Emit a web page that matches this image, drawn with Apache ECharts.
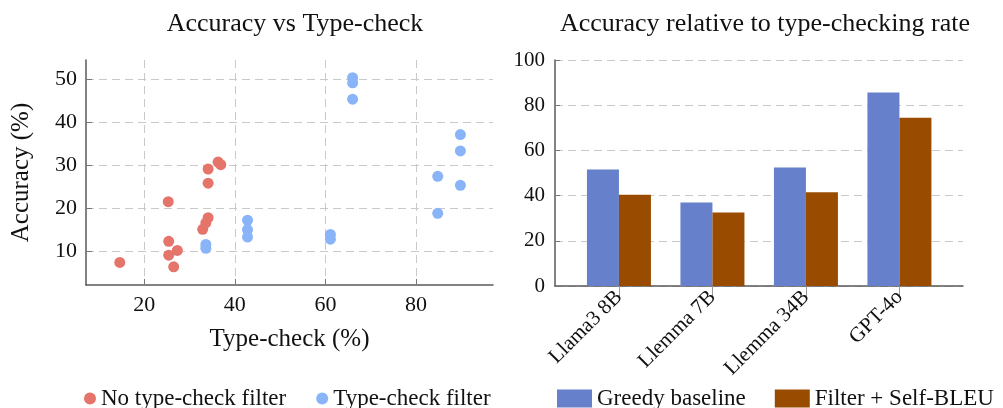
<!DOCTYPE html>
<html>
<head>
<meta charset="utf-8">
<script src="https://cdn.jsdelivr.net/npm/echarts@6/dist/echarts.min.js"></script>
<style>
html,body{margin:0;padding:0;background:#fff;}
#c{width:1003px;height:408px;}
</style>
</head>
<body>
<div id="c"></div>
<script>
// ---- Data ----
const noFilterX = [14.6, 25.3, 25.4, 27.3, 26.5, 34.1, 34.1, 36.3, 36.9, 34.1, 33.6, 32.9, 25.4];
const noFilterY = [7.5, 21.6, 12.4, 10.3, 6.5, 29.2, 25.9, 30.8, 30.2, 17.9, 16.7, 15.2, 9.2];
const filterX = [33.6, 33.6, 42.8, 42.8, 42.8, 61.1, 61.1, 66.0, 66.0, 66.0, 89.8, 89.8, 89.8, 84.8, 84.8];
const filterY = [11.7, 10.8, 17.3, 15.1, 13.4, 14.0, 12.9, 50.4, 49.2, 45.4, 37.2, 33.4, 25.4, 27.5, 18.9];

const scatterXTicks = [20, 40, 60, 80];
const scatterYTicks = [10, 20, 30, 40, 50];

const models = ['Llama3 8B', 'Llemma 7B', 'Llemma 34B', 'GPT-4o'];
const greedy = [51.6, 37.0, 52.4, 85.6];
const filterBleu = [40.4, 32.5, 41.5, 74.5];
const barYTicks = [0, 20, 40, 60, 80, 100];

const seriesNames = ['No type-check filter', 'Type-check filter', 'Greedy baseline', 'Filter + Self-BLEU'];

// ---- Build ----
const FONT = 'Liberation Serif';
const noFilterPts = noFilterX.map((x, i) => [x, noFilterY[i]]);
const filterPts = filterX.map((x, i) => [x, filterY[i]]);
const greedyPts = greedy.map((v, i) => [i, v]);
const bleuPts = filterBleu.map((v, i) => [i, v]);

const axisLineStyle = {color: '#5a5a5a', width: 1.5};
const gridLine = {show: true, lineStyle: {color: '#c9c9c9', width: 1, type: [8, 5]}};

const chart = echarts.init(document.getElementById('c'), null, {renderer: 'canvas'});
chart.setOption({
  animation: false,
  backgroundColor: '#fff',
  textStyle: {fontFamily: FONT},
  title: [
    {text: 'Accuracy vs Type-check', left: 290, top: 6, textAlign: 'center',
     textStyle: {fontFamily: FONT, fontSize: 26, fontWeight: 'normal', color: '#111'}},
    {text: 'Accuracy relative to type-checking rate', left: 760, top: 6, textAlign: 'center',
     textStyle: {fontFamily: FONT, fontSize: 26, fontWeight: 'normal', color: '#111'}}
  ],
  grid: [
    {left: 86, top: 60, width: 407, height: 225},
    {left: 555, top: 60, width: 408, height: 226}
  ],
  legend: [
    {data: [seriesNames[0], seriesNames[1]], left: 79, top: 382, icon: 'circle',
     itemWidth: 12, itemHeight: 12, itemGap: 30, itemTextGap: 5,
     textStyle: {fontFamily: FONT, fontSize: 23, color: '#111'}},
    {data: [seriesNames[2], seriesNames[3]], left: 552, top: 382, icon: 'rect',
     itemWidth: 35, itemHeight: 18, itemGap: 29, itemTextGap: 6,
     textStyle: {fontFamily: FONT, fontSize: 23, color: '#111'}}
  ],
  xAxis: [
    {type: 'value', gridIndex: 0, min: 7.14, max: 97.0,
     name: 'Type-check (%)', nameLocation: 'middle', nameGap: 42,
     nameTextStyle: {fontFamily: FONT, fontSize: 25, color: '#111'},
     axisLine: {show: true, onZero: false, lineStyle: axisLineStyle},
     axisTick: {show: true, inside: true, length: 6, customValues: scatterXTicks, lineStyle: {color: '#777'}},
     axisLabel: {customValues: scatterXTicks, fontFamily: FONT, fontSize: 22, color: '#111', margin: 9},
     splitLine: gridLine},
    {type: 'value', gridIndex: 1, min: -0.684, max: 3.68,
     axisLine: {show: true, onZero: false, lineStyle: axisLineStyle},
     axisTick: {show: true, inside: false, length: 10, customValues: [0, 1, 2, 3], lineStyle: {color: '#999'}},
     axisLabel: {customValues: [0, 1, 2, 3], rotate: 45, fontFamily: FONT, fontSize: 21, color: '#111', margin: 8,
                 formatter: v => models[Math.round(v)]},
     splitLine: {show: false}}
  ],
  yAxis: [
    {type: 'value', gridIndex: 0, min: 2.27, max: 54.5,
     name: 'Accuracy (%)', nameLocation: 'middle', nameGap: 52,
     nameTextStyle: {fontFamily: FONT, fontSize: 25, color: '#111'},
     axisLine: {show: true, onZero: false, lineStyle: axisLineStyle},
     axisTick: {show: true, inside: true, length: 6, customValues: scatterYTicks, lineStyle: {color: '#777'}},
     axisLabel: {customValues: scatterYTicks, fontFamily: FONT, fontSize: 22, color: '#111', margin: 9},
     splitLine: gridLine},
    {type: 'value', gridIndex: 1, min: 0, max: 100,
     axisLine: {show: true, onZero: false, lineStyle: axisLineStyle},
     axisTick: {show: true, inside: true, length: 5, customValues: barYTicks, lineStyle: {color: '#777'}},
     axisLabel: {customValues: barYTicks, fontFamily: FONT, fontSize: 21, color: '#111', margin: 10},
     splitLine: gridLine}
  ],
  series: [
    {name: seriesNames[0], type: 'scatter', xAxisIndex: 0, yAxisIndex: 0, data: noFilterPts,
     symbolSize: 11, itemStyle: {color: '#E5746B', opacity: 1}},
    {name: seriesNames[1], type: 'scatter', xAxisIndex: 0, yAxisIndex: 0, data: filterPts,
     symbolSize: 11, itemStyle: {color: '#8AB4F8', opacity: 1}},
    {name: seriesNames[2], type: 'bar', xAxisIndex: 1, yAxisIndex: 1, data: greedyPts,
     barWidth: 32, barGap: '0%', itemStyle: {color: '#6780CC'}},
    {name: seriesNames[3], type: 'bar', xAxisIndex: 1, yAxisIndex: 1, data: bleuPts,
     barWidth: 32, barGap: '0%', itemStyle: {color: '#994C00'}}
  ]
});
</script>
</body>
</html>
